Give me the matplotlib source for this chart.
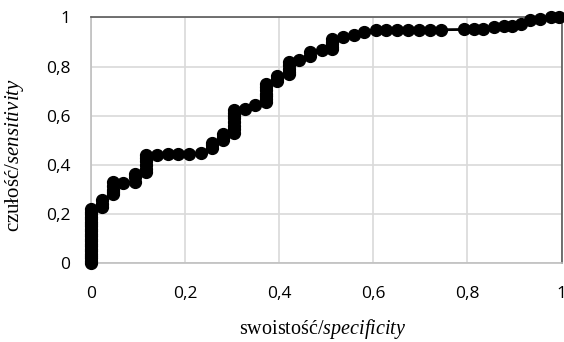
import numpy as np
import matplotlib as mpl
import matplotlib.pyplot as plt

# points (x = specificity axis, y = sensitivity)
spec = [0, 0, 0, 0, 0, 0, 0, 0, 0, 0, 0, 0, 0, 0, 0, 0, 0, 0, 0, 0, 0, 0, 0,
        0.023, 0.023, 0.023,
        0.046, 0.046, 0.046, 0.046, 0.046,
        0.069,
        0.094, 0.094, 0.094,
        0.117, 0.117, 0.117, 0.117, 0.117, 0.117,
        0.140, 0.163, 0.186, 0.209, 0.233,
        0.257, 0.257, 0.257,
        0.280, 0.280, 0.280,
        0.303, 0.303, 0.303, 0.303, 0.303, 0.303, 0.303, 0.303,
        0.327, 0.349,
        0.372, 0.372, 0.372, 0.372, 0.372, 0.372, 0.372,
        0.396, 0.396, 0.396,
        0.420, 0.420, 0.420, 0.420, 0.420,
        0.443,
        0.466, 0.466,
        0.490,
        0.512, 0.512, 0.512, 0.512, 0.512,
        0.536, 0.558, 0.581,
        0.605, 0.628, 0.651, 0.674, 0.698, 0.721, 0.744,
        0.792, 0.813, 0.834, 0.856, 0.877, 0.895, 0.913, 0.933, 0.955, 0.977, 0.994]
sens = [0, 0.01, 0.02, 0.03, 0.04, 0.05, 0.06, 0.07, 0.08, 0.09, 0.10, 0.11,
        0.12, 0.13, 0.14, 0.15, 0.16, 0.17, 0.18, 0.19, 0.20, 0.21, 0.22,
        0.23, 0.243, 0.256,
        0.28, 0.29, 0.30, 0.315, 0.33,
        0.325,
        0.33, 0.35, 0.365,
        0.37, 0.385, 0.40, 0.415, 0.43, 0.44,
        0.44, 0.443, 0.446, 0.443, 0.45,
        0.47, 0.48, 0.49,
        0.50, 0.513, 0.527,
        0.53, 0.545, 0.56, 0.575, 0.59, 0.60, 0.61, 0.622,
        0.629, 0.642,
        0.656, 0.668, 0.68, 0.69, 0.705, 0.718, 0.73,
        0.74, 0.75, 0.76,
        0.77, 0.78, 0.79, 0.805, 0.82,
        0.825,
        0.845, 0.859,
        0.866,
        0.87, 0.88, 0.89, 0.90, 0.913,
        0.92, 0.927, 0.94,
        0.95, 0.95, 0.95, 0.95, 0.95, 0.95, 0.95,
        0.951, 0.953, 0.955, 0.96, 0.965, 0.967, 0.974, 0.988, 0.993, 1.0, 1.0]

ticks = [0, 0.2, 0.4, 0.6, 0.8, 1]
tick_labels = ["0", "0,2", "0,4", "0,6", "0,8", "1"]

mpl.rcParams["mathtext.fontset"] = "custom"
mpl.rcParams["mathtext.rm"] = "Liberation Serif"
mpl.rcParams["mathtext.it"] = "Liberation Serif:italic"

fig = plt.figure(figsize=(5.64, 3.42), dpi=100)
ax = fig.add_axes([0.1613, 0.230, 0.8343, 0.719])

ax.plot(spec, sens, color="black", linewidth=2, marker="o",
        markersize=8.5, clip_on=False, zorder=3)

ax.set_xlim(0, 1)
ax.set_ylim(0, 1)
ax.set_xticks(ticks)
ax.set_xticklabels(tick_labels)
ax.set_yticks(ticks)
ax.set_yticklabels(tick_labels)
ax.grid(True, color="#d9d9d9", linewidth=1.2)
ax.set_axisbelow(True)

for lbl in ax.get_xticklabels() + ax.get_yticklabels():
    lbl.set_fontfamily("Open Sans")
    lbl.set_fontsize(12.5)
ax.tick_params(axis="both", length=0)
ax.tick_params(axis="x", pad=16)
ax.tick_params(axis="y", pad=15)

ax.spines["left"].set_color("#bfbfbf")
ax.spines["bottom"].set_color("#bfbfbf")
ax.spines["top"].set_color("#595959")
ax.spines["right"].set_color("#595959")
for s in ax.spines.values():
    s.set_linewidth(1.2)

fig.text(323 / 564, 1 - 329 / 342, "swoistość/$\\mathit{specificity}$",
         ha="center", va="center", fontsize=14.5, family="Liberation Serif")
fig.text(15 / 564, 1 - 155 / 342, "czułość/$\\mathit{sensitivity}$",
         ha="center", va="center", fontsize=15, family="Liberation Serif",
         rotation=90)

plt.savefig("out.png", dpi=100)
